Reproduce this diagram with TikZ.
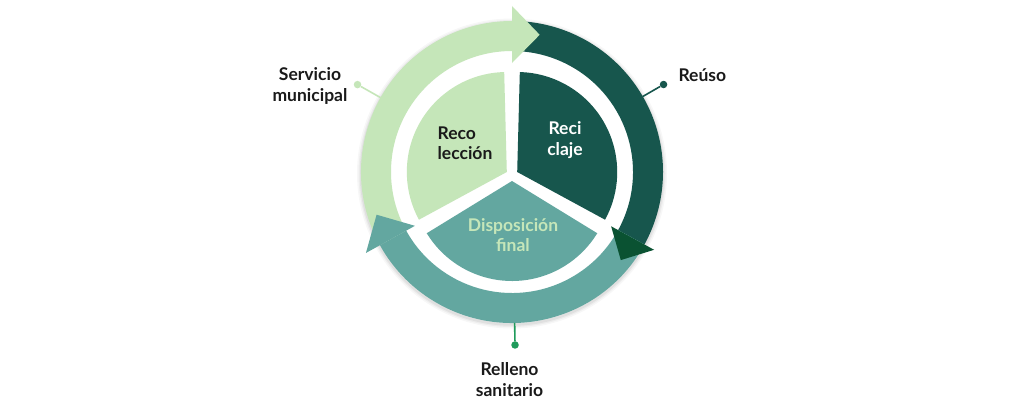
\documentclass[tikz,border=0pt]{standalone}
\usepackage{fontspec}
\setmainfont{Lato}
\usetikzlibrary{calc}
\definecolor{lightg}{HTML}{C5E6B9}
\definecolor{darkg}{HTML}{17564D}
\definecolor{tealg}{HTML}{63A7A0}
\definecolor{headdark}{HTML}{0A5232}
\definecolor{dotg}{HTML}{1F9B5B}
\definecolor{txt}{HTML}{1A1A1A}
\begin{document}
\begin{tikzpicture}[x=1pt,y=1pt,
  lbl/.style={font=\fontsize{17.5}{20.5}\selectfont\bfseries, align=center, text=txt},
  inner/.style={font=\fontsize{17.5}{20.5}\selectfont\bfseries},
  dotst/.style={circle, inner sep=0pt, minimum size=7.5pt}]
\useasboundingbox (0,0) rectangle (1024,400);
\fill[white] (0,0) rectangle (1024,400);
\coordinate (C) at (512,228);
\coordinate (P) at (512,225);
% soft shadow behind ring
\foreach \w/\o in {8/0.03,5/0.04,2.5/0.05}{
  \draw[black, opacity=\o, line width=\w pt] ($(C)+(0,-1.5)$) circle[radius=151];
}
% ring segments
\fill[lightg] ($(C)+(209:151)$) arc[start angle=209,end angle=90,radius=151]
   -- ($(C)+(90:121)$) arc[start angle=90,end angle=209,radius=121] -- cycle;
\fill[darkg] ($(C)+(90:151)$) arc[start angle=90,end angle=-28.7,radius=151]
   -- ($(C)+(-28.7:121)$) arc[start angle=-28.7,end angle=90,radius=121] -- cycle;
\fill[tealg] ($(C)+(-28.7:151)$) arc[start angle=-28.7,end angle=-151,radius=151]
   -- ($(C)+(-151:121)$) arc[start angle=-151,end angle=-28.7,radius=121] -- cycle;
% arrow heads
\fill[lightg] ($(C)+(90:109)$) coordinate (gh1) -- ($(C)+(90:166)$) coordinate (gh2) -- ($(C)+(78.6:140)$) coordinate (gh3) -- cycle;
\fill[headdark] ($(C)+(-28.7:113)$) coordinate (dh1) -- ($(C)+(-28.7:162)$) coordinate (dh2) -- ($(C)+(-39:140)$) coordinate (dh3) -- cycle;
\fill[tealg] ($(C)+(209:111)$) coordinate (th1) -- ($(C)+(209:167)$) coordinate (th2) -- ($(C)+(197.5:142)$) coordinate (th3) -- cycle;
% pie sectors
\fill[lightg] ($(P)+(150:6)$) coordinate (a1) -- ++(91.5:100) arc[start angle=91.5,end angle=208.5,radius=100] -- cycle;
\fill[darkg] ($(P)+(30:6)$) coordinate (a2) -- ++(-28.5:100) arc[start angle=-28.5,end angle=88.5,radius=100] -- cycle;
\fill[tealg] ($(P)+(270:6)$) coordinate (a3) -- ++(211.5:100) arc[start angle=211.5,end angle=328.5,radius=100] -- cycle;
% inner texts
\node[inner, text=txt, align=left] (reco) at (465,257) {Reco\\lección};
\node[inner, text=white, align=center] (reci) at (565,260) {Reci\\claje};
\node[inner, text=lightg, align=center] (disp) at (513,165) {Disposición\\final};
% callouts
\coordinate (s1) at ($(C)+(150.5:151)$);
\node[dotst, fill=lightg] (sdot) at ($(C)+(150.5:177.5)$) {};
\draw[lightg, line width=1.6pt] (s1) -- (sdot);
\node[lbl] (serv) at (310,314) {Servicio\\municipal};
\coordinate (r1) at ($(C)+(30:151)$);
\node[dotst, fill=darkg] (rdot) at ($(C)+(30:175)$) {};
\draw[darkg, line width=1.6pt] (r1) -- (rdot);
\node[lbl, anchor=west] (reuso) at (675,325) {Reúso};
\coordinate (l1) at ($(C)+(271:151)$);
\node[dotst, fill=dotg] (ldot) at ($(C)+(271:173)$) {};
\draw[dotg, line width=1.6pt] (l1) -- (ldot);
\node[lbl] (rell) at (509.5,20.5) {Relleno\\sanitario};
\end{tikzpicture}
\end{document}
